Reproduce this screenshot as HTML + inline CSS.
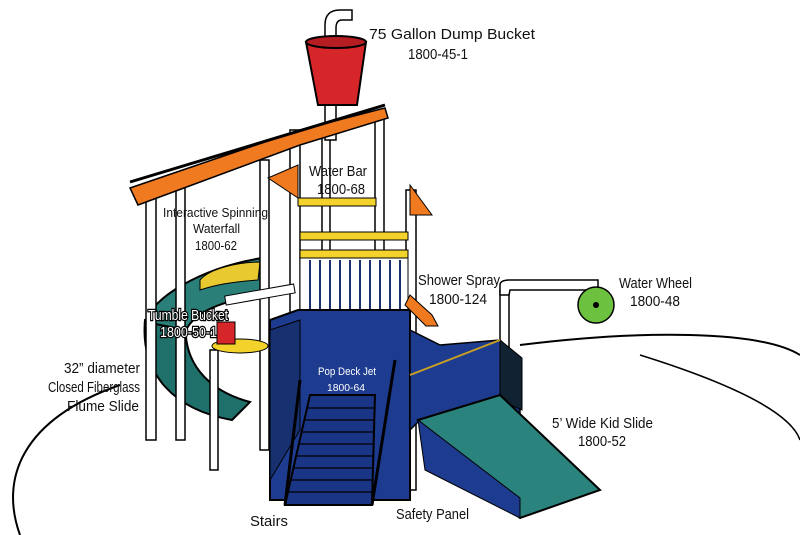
<!DOCTYPE html>
<html><head><meta charset="utf-8"><style>
body{margin:0;background:#fff;}
svg{display:block}
text{font-family:"Liberation Sans",sans-serif;font-size:14.5px;fill:#111;}
</style></head><body>
<svg width="800" height="535" viewBox="0 0 800 535" xmlns="http://www.w3.org/2000/svg">
<rect width="800" height="535" fill="#fff"/>
<path d="M20,535 C0,480 20,420 120,385 M520,345 C640,330 760,330 800,355" fill="none" stroke="#000" stroke-width="2"/>
<path d="M640,355 C720,380 790,410 800,440" fill="none" stroke="#000" stroke-width="1.5"/>
<!-- left flume slide -->
<path d="M145,320 C140,375 175,410 232,420 L250,402 C205,390 182,360 186,320 Z" fill="#1f6f6a" stroke="#000" stroke-width="2"/>
<path d="M145,322 C152,298 200,268 262,258 L264,295 C222,300 195,312 186,330 Z" fill="#2a7f79" stroke="#000" stroke-width="2"/>
<path d="M200,280 C210,268 240,262 260,262 L258,280 C230,282 215,285 200,290Z" fill="#e8c930" stroke="#000"/>
<g fill="#fff" stroke="#000" stroke-width="1.5">
<rect x="146" y="190" width="10" height="250"/>
<rect x="176" y="180" width="9" height="260"/>
<rect x="260" y="160" width="9" height="290"/>
<rect x="290" y="130" width="10" height="330"/>
<rect x="322" y="130" width="8" height="200"/>
<rect x="375" y="115" width="9" height="200"/>
<rect x="406" y="190" width="10" height="300"/>
<rect x="500" y="290" width="9" height="70"/>
<rect x="210" y="350" width="8" height="120"/>
<path d="M325,140 L325,25 Q325,10 340,10 L352,10 L352,20 L342,20 Q336,20 336,28 L336,140Z"/>
<path d="M500,295 L500,285 Q500,280 510,280 L598,280 L598,290 L510,290 L509,295Z"/>
</g>
<path d="M130,188 L300,130 L385,108 L388,118 L300,145 L138,205 Z" fill="#f07a20" stroke="#000" stroke-width="1.5"/>
<path d="M130,182 L385,105" stroke="#000" stroke-width="3"/>
<path d="M268,178 L298,165 L298,198 Z M410,185 L432,215 L410,215Z" fill="#f07a20" stroke="#000"/>
<path d="M306,42 L366,42 L357,105 L318,105 Z" fill="#d7262a" stroke="#000" stroke-width="2"/>
<ellipse cx="336" cy="42" rx="30" ry="6" fill="#b51d22" stroke="#000" stroke-width="2"/>
<rect x="298" y="198" width="78" height="8" fill="#f2d22b" stroke="#000"/>
<rect x="300" y="232" width="108" height="8" fill="#f2d22b" stroke="#000"/>
<rect x="300" y="250" width="108" height="8" fill="#f2d22b" stroke="#000"/>
<path d="M300,258 L408,258 L408,320 L300,320Z" fill="#fff" stroke="#000"/>
<g stroke="#1a2e6e" stroke-width="2">
<path d="M310,260V318M320,260V318M330,260V318M340,260V318M350,260V318M360,260V318M370,260V318M380,260V318M390,260V318M400,260V318"/>
</g>
<path d="M298,310 L410,310 L410,500 L270,500 L270,320Z" fill="#1e3c8f" stroke="#000" stroke-width="2"/>
<path d="M270,330 L300,320 L300,430 L270,480Z" fill="#17306f" stroke="#000"/>
<path d="M310,395 L375,395 L372,505 L285,505Z" fill="#1a3585" stroke="#000" stroke-width="2"/>
<g stroke="#000" stroke-width="1.2"><path d="M308,408H374M305,420H374M302,432H374M299,444H373M296,456H373M293,468H373M290,480H372M288,492H372"/></g>
<path d="M285,505 L300,380 M372,505 L395,360" stroke="#000" stroke-width="3"/>
<path d="M410,330 L440,345 L500,340 L520,360 L520,420 L420,420 L410,430Z" fill="#1e3c8f" stroke="#000" stroke-width="1.5"/>
<path d="M500,340 L522,358 L522,410 L500,400Z" fill="#123" stroke="#000"/>
<path d="M410,375 L500,340" stroke="#c9a020" stroke-width="2"/>
<path d="M418,420 L500,395 L600,490 L520,518 Z" fill="#2a837c" stroke="#000" stroke-width="2"/>
<path d="M418,420 L425,470 L520,518 L520,498 Z" fill="#1e3c8f" stroke="#000"/>
<path d="M410,295 L432,315 L438,326 L426,326 L405,305Z" fill="#f07a20" stroke="#000"/>
<ellipse cx="240" cy="346" rx="28" ry="7" fill="#f2d22b" stroke="#000"/>
<rect x="217" y="322" width="18" height="22" fill="#d7262a" stroke="#000"/>
<rect x="225" y="290" width="70" height="9" fill="#fff" stroke="#000" transform="rotate(-10 260 295)"/>
<circle cx="596" cy="305" r="18" fill="#6cc13f" stroke="#000" stroke-width="1.5"/>
<circle cx="596" cy="305" r="3" fill="#000"/>
<text x="369" y="39" textLength="166" lengthAdjust="spacingAndGlyphs">75 Gallon Dump Bucket</text>
<text x="408" y="59" textLength="60" lengthAdjust="spacingAndGlyphs">1800-45-1</text>
<text x="309" y="176" textLength="58" lengthAdjust="spacingAndGlyphs">Water Bar</text>
<text x="317" y="194" textLength="48" lengthAdjust="spacingAndGlyphs">1800-68</text>
<text x="163" y="217" textLength="105" lengthAdjust="spacingAndGlyphs" style="font-size:13px">Interactive Spinning</text>
<text x="193" y="233" textLength="47" lengthAdjust="spacingAndGlyphs" style="font-size:13px">Waterfall</text>
<text x="195" y="250" textLength="42" lengthAdjust="spacingAndGlyphs" style="font-size:13px">1800-62</text>
<text x="418" y="285" textLength="82" lengthAdjust="spacingAndGlyphs">Shower Spray</text>
<text x="429" y="304" textLength="58" lengthAdjust="spacingAndGlyphs">1800-124</text>
<text x="619" y="288" textLength="73" lengthAdjust="spacingAndGlyphs">Water Wheel</text>
<text x="630" y="306" textLength="50" lengthAdjust="spacingAndGlyphs">1800-48</text>
<text x="148" y="320" textLength="80" lengthAdjust="spacingAndGlyphs" style="fill:#fff;stroke:#000;stroke-width:2.5;paint-order:stroke">Tumble Bucket</text>
<text x="160" y="337" textLength="57" lengthAdjust="spacingAndGlyphs" style="fill:#fff;stroke:#000;stroke-width:2.5;paint-order:stroke">1800-50-1</text>
<text x="64" y="373" textLength="76" lengthAdjust="spacingAndGlyphs">32” diameter</text>
<text x="48" y="392" textLength="92" lengthAdjust="spacingAndGlyphs">Closed Fiberglass</text>
<text x="67" y="411" textLength="72" lengthAdjust="spacingAndGlyphs">Flume Slide</text>
<text x="318" y="375" textLength="58" lengthAdjust="spacingAndGlyphs" style="font-size:11px;fill:#fff">Pop Deck Jet</text>
<text x="327" y="391" textLength="38" lengthAdjust="spacingAndGlyphs" style="font-size:10px;fill:#fff">1800-64</text>
<text x="552" y="428" textLength="101" lengthAdjust="spacingAndGlyphs">5’ Wide Kid Slide</text>
<text x="578" y="446" textLength="48" lengthAdjust="spacingAndGlyphs">1800-52</text>
<text x="250" y="526" textLength="38" lengthAdjust="spacingAndGlyphs">Stairs</text>
<text x="396" y="519" textLength="73" lengthAdjust="spacingAndGlyphs">Safety Panel</text>
</svg>
</body></html>
